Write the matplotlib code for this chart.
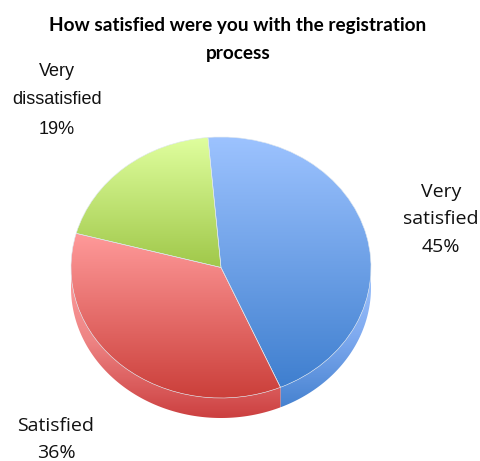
import numpy as np
import matplotlib
matplotlib.use("Agg")
import matplotlib.pyplot as plt
from matplotlib.colors import LinearSegmentedColormap
from matplotlib.patches import Polygon

labels = ["Very\nsatisfied\n45%", "Satisfied\n36%", "Very\ndissatisfied\n19%"]
values = [44.9, 35.7, 19.4]
top_colors = [("#9DC3FF", "#3F7FCF"), ("#FF9A9A", "#CB3F3A"), ("#E0FF9F", "#A0C84A")]
rim_colors = [("#A2C6FF", "#80ABF0", "#4682D0"), ("#FFA0A0", "#EE8484", "#CC4040"), ("#A0C84A", "#A0C84A")]

W, H = 480, 461
RX, RY = 150, 130.5
CX, CY = 221, 267.5
DEPTH = 20 / RY

fig = plt.figure(figsize=(W / 100, H / 100), dpi=100)
# axes box is 1.2 radius each way, so the squashed pie lands on the right pixels
ax = fig.add_axes([(CX - 1.2 * RX) / W, 1 - (CY + 1.2 * RY) / H, 2.4 * RX / W, 2.4 * RY / H])
wedges, _ = ax.pie(values, startangle=95, counterclock=False, radius=1,
                   wedgeprops=dict(facecolor="none", edgecolor="#DDE6EE", linewidth=0.4, zorder=5))
ax.set_aspect("auto")


def gradient(clip, ymin, ymax, colors, z):
    cmap = LinearSegmentedColormap.from_list("g", colors)
    g = np.linspace(0, 1, 256).reshape(-1, 1)
    im = ax.imshow(g, cmap=cmap, extent=(-1.2, 1.2, ymin, ymax), origin="upper",
                   aspect="auto", zorder=z, interpolation="bilinear")
    im.set_clip_path(clip)


for w, c, rc in zip(wedges, top_colors, rim_colors):
    t = np.radians(np.linspace(w.theta1, w.theta2, 200))
    x, y = np.cos(t), np.sin(t)
    ys = np.append(y, 0)
    gradient(w, ys.min(), ys.max(), c, 3)

    # side of the disc: arc swept straight down
    low = y < 0.05
    if low.any():
        px = np.concatenate([x[low], x[low][::-1]])
        py = np.concatenate([y[low], y[low][::-1] - DEPTH])
        rim = Polygon(np.column_stack([px, py]), closed=True, facecolor="none", edgecolor="none")
        ax.add_patch(rim)
        gradient(rim, py.min(), py.max(), rc, 2)

ax.set_xlim(-1.2, 1.2)
ax.set_ylim(-1.2, 1.2)

fig.text(238 / W, 1 - 25 / H, "How satisfied were you with the registration", ha="center", va="center",
         fontsize=13.7, fontweight="bold", color="black", family="Lato")
fig.text(238 / W, 1 - 54 / H, "process", ha="center", va="center",
         fontsize=13.7, fontweight="bold", color="black", family="Lato")

# the dissatisfied label is in an Arial-like face in the original, the others are wider
for txt, xp, ys, fam, size in [(labels[0], 441, (192, 219, 247), "Open Sans", 14),
                               (labels[1], 56, (426, 453), "Open Sans", 14),
                               (labels[2], 57, (72, 99, 129), "Liberation Sans", 13)]:
    for line, yp in zip(txt.split("\n"), ys):
        fig.text(xp / W, 1 - yp / H, line, ha="center", va="center", fontsize=size,
                 family=fam, color="#111111")

fig.savefig("out.png", dpi=100)
